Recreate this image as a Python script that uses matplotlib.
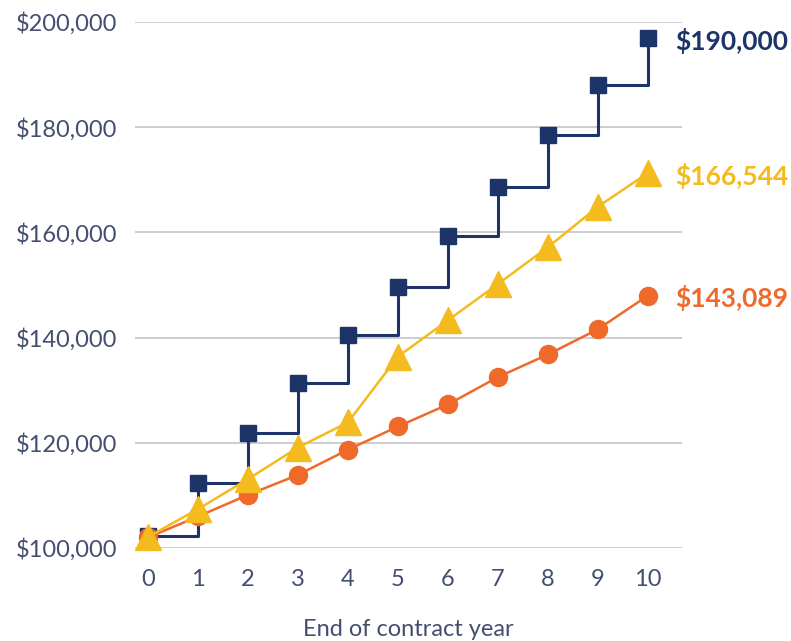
import matplotlib

matplotlib.use("Agg")
import matplotlib.pyplot as plt
from matplotlib.ticker import FuncFormatter

# --- data --------------------------------------------------------------------
YEARS = list(range(11))
STEPPED = [102200, 112400, 121900, 131300, 140500, 149700, 159300, 168700, 178500, 188000, 196900]
MIDDLE = [102100, 107400, 113100, 119100, 123900, 136400, 143300, 150200, 157200, 164900, 171300]
LOWER = [102000, 106000, 110100, 113900, 118700, 123100, 127300, 132500, 136800, 141600, 148000]
END_LABELS = ["$190,000", "$166,544", "$143,089"]
XLABEL = "End of contract year"

NAVY = "#1c3468"
YELLOW = "#f4bb1f"
ORANGE = "#ef6a2a"
TEXT = "#434e70"

plt.rcParams["font.family"] = ["Lato", "DejaVu Sans"]

fig = plt.figure(figsize=(7.91, 6.41), dpi=100)
ax = fig.add_axes([135 / 791, 1 - 548 / 641, (682 - 135) / 791, (548 - 22) / 641])

# stepped series drawn first so the other two sit on top of it
ax.plot(YEARS, STEPPED, drawstyle="steps-post", color=NAVY, lw=2.2, zorder=3, clip_on=False)
ax.plot(YEARS, STEPPED, ls="none", marker="s", ms=11.5, color=NAVY, zorder=3, clip_on=False)
ax.plot(YEARS, LOWER, color=ORANGE, lw=1.8, marker="o", ms=13, zorder=4, clip_on=False)
ax.plot(YEARS, MIDDLE, color=YELLOW, lw=1.8, marker="^", ms=19, zorder=5, clip_on=False)

for series, label, color in zip([STEPPED, MIDDLE, LOWER], END_LABELS, [NAVY, YELLOW, ORANGE]):
    ax.text(10.55, series[-1] - 500, label, color=color, fontsize=19, fontweight="bold",
            va="center", ha="left", clip_on=False)

ax.set_xlim(-0.26, 10.68)
ax.set_ylim(100000, 200000)
ax.set_xticks(YEARS)
ax.set_yticks(range(100000, 200001, 20000))
ax.yaxis.set_major_formatter(FuncFormatter(lambda v, _: f"${v:,.0f}"))
ax.grid(axis="y", color="#c8c9cd", lw=1.3)
ax.set_axisbelow(True)
for s in ax.spines.values():
    s.set_visible(False)
ax.tick_params(length=0, labelsize=17, labelcolor=TEXT)
ax.tick_params(axis="y", pad=13)
ax.tick_params(axis="x", pad=15)
ax.set_xlabel(XLABEL, fontsize=17, color=TEXT, labelpad=21)

fig.savefig("out.png", dpi=100)
